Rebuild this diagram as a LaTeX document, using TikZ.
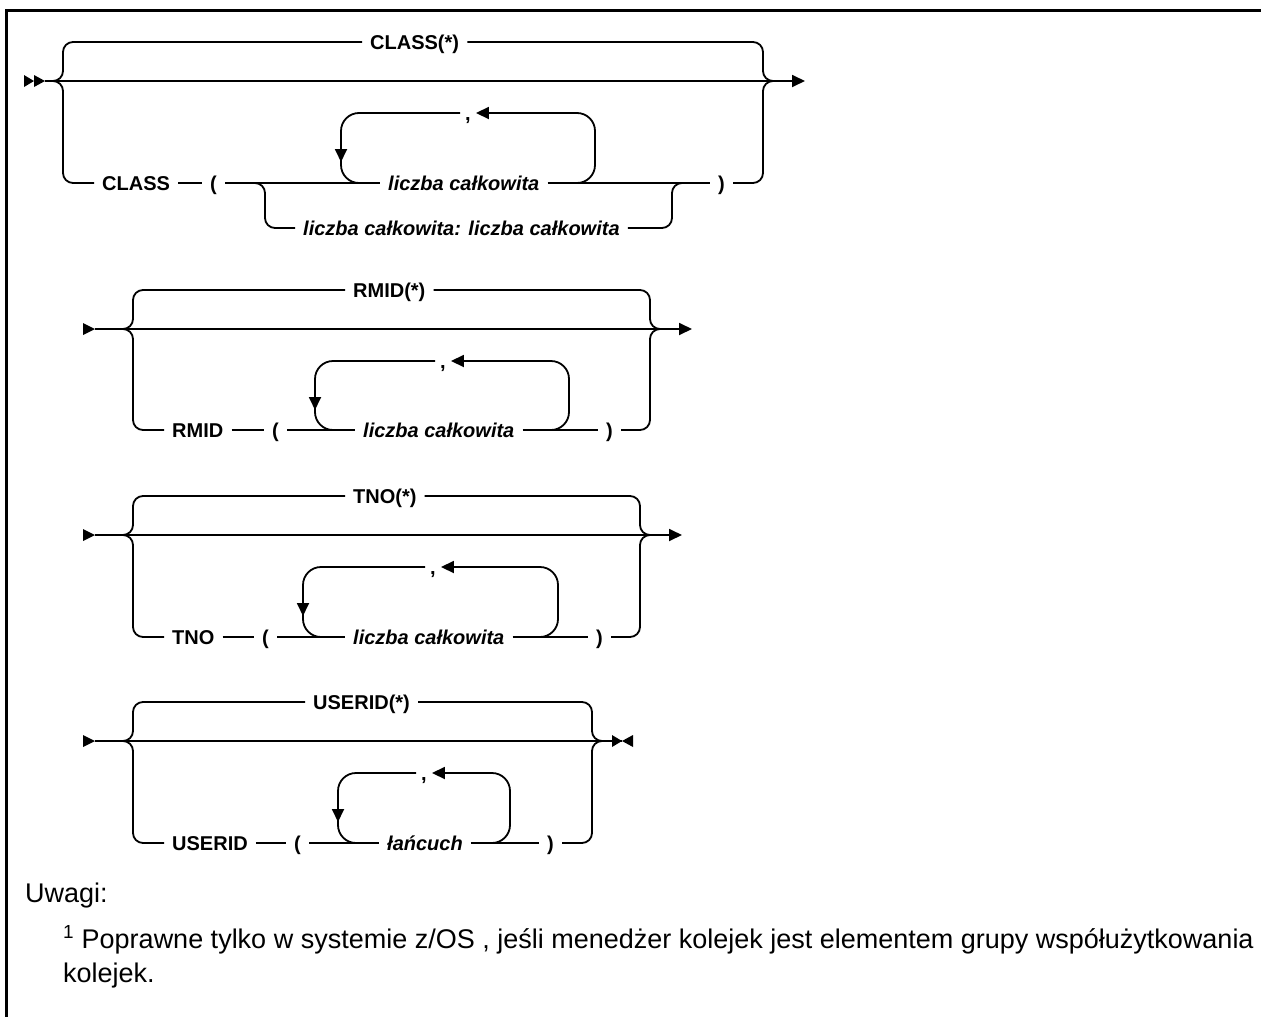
\documentclass[tikz,border=0pt]{standalone}
\usepackage{fontspec}
\setmainfont{Liberation Sans}
\usetikzlibrary{arrows.meta}

\tikzset{
  rail/.style={line width=1.8pt,rounded corners=10pt},
  repeatline/.style={line width=1.8pt,rounded corners=18pt},
  railarrow/.style={-{Triangle[length=13pt,width=12pt]}},
  keyword/.style={font=\bfseries\fontsize{20}{24}\selectfont,text height=14pt,text depth=0pt,inner ysep=0pt,inner xsep=8pt,anchor=west},
  argname/.style={keyword,font=\bfseries\itshape\fontsize{20}{24}\selectfont},
  repsep/.style={keyword,inner xsep=5pt},
  note/.style={font=\fontsize{27}{34}\selectfont,inner sep=0pt,anchor=base west}
}

\begin{document}
\begin{tikzpicture}[x=1pt,y=-1pt]
\useasboundingbox (0,0) rectangle (1261,1017);
\draw[line width=3pt] (1261,10) -- (6,10) -- (6,1017);

% CLASS
\coordinate (clsIn) at (45,81);
\coordinate (clsOut) at (805,81);
\coordinate (clsL) at (63,81);
\coordinate (clsR) at (763,81);
\coordinate (clsA) at (265,183);
\coordinate (clsB) at (672,183);
\coordinate (clsLoopL) at (341,113);
\coordinate (clsLoopR) at (595,113);
\node[keyword] (clsAll) at (362,42) {CLASS(*)};
\node[keyword] (clsKw) at (94,183) {CLASS};
\node[keyword] (clsOpen) at (202,183) {(};
\node[argname] (clsInt) at (380,183) {liczba całkowita};
\node[keyword] (clsClose) at (710,183) {)};
\node[argname] (clsRange) at (295,228) {liczba całkowita: liczba całkowita};
\node[repsep] (clsSep) at (460,113) {,};
\fill (24,75) -- (34,81) -- (24,87) -- cycle (34,75) -- (45,81) -- (34,87) -- cycle;
\draw[rail,railarrow] (clsIn) -- (clsOut);
\draw[rail] (clsL) ++(-10,0) -- (clsL) |- (clsAll.west);
\draw[rail] (clsAll.east) -| (clsR) -- ++(10,0);
\draw[rail] (clsL) ++(-10,0) -- (clsL) |- (clsKw.west);
\draw[rail] (clsKw.east) -- (clsOpen.west) (clsOpen.east) -- (clsInt.west) (clsInt.east) -- (clsClose.west);
\draw[rail] (clsClose.east) -| (clsR) -- ++(10,0);
\draw[rail] (clsA) ++(-10,0) -- (clsA) |- (clsRange.west);
\draw[rail] (clsRange.east) -| (clsB) -- ++(10,0);
\draw[repeatline,railarrow] (clsLoopR |- clsInt) ++(-18,0) -- (clsLoopR |- clsInt) -- (clsLoopR) -- (clsSep.east);
\draw[repeatline,railarrow] (clsSep.west) -- (clsLoopL) -- ++(0,49);
\draw[repeatline] (clsLoopL) ++(0,45) -- (clsLoopL |- clsInt) -- ++(18,0);

% RMID
\coordinate (rmidIn) at (95,329);
\coordinate (rmidOut) at (692,329);
\coordinate (rmidL) at (133,329);
\coordinate (rmidR) at (650,329);
\coordinate (rmidLoopL) at (315,361);
\coordinate (rmidLoopR) at (569,361);
\node[keyword] (rmidAll) at (345,290) {RMID(*)};
\node[keyword] (rmidKw) at (164,430) {RMID};
\node[keyword] (rmidOpen) at (264,430) {(};
\node[argname] (rmidInt) at (355,430) {liczba całkowita};
\node[keyword] (rmidClose) at (598,430) {)};
\node[repsep] (rmidSep) at (435,361) {,};
\fill (83,323) -- (95,329) -- (83,335) -- cycle;
\draw[rail,railarrow] (rmidIn) -- (rmidOut);
\draw[rail] (rmidL) ++(-10,0) -- (rmidL) |- (rmidAll.west);
\draw[rail] (rmidAll.east) -| (rmidR) -- ++(10,0);
\draw[rail] (rmidL) ++(-10,0) -- (rmidL) |- (rmidKw.west);
\draw[rail] (rmidKw.east) -- (rmidOpen.west) (rmidOpen.east) -- (rmidInt.west) (rmidInt.east) -- (rmidClose.west);
\draw[rail] (rmidClose.east) -| (rmidR) -- ++(10,0);
\draw[repeatline,railarrow] (rmidLoopR |- rmidInt) ++(-18,0) -- (rmidLoopR |- rmidInt) -- (rmidLoopR) -- (rmidSep.east);
\draw[repeatline,railarrow] (rmidSep.west) -- (rmidLoopL) -- ++(0,49);
\draw[repeatline] (rmidLoopL) ++(0,45) -- (rmidLoopL |- rmidInt) -- ++(18,0);

% TNO
\coordinate (tnoIn) at (95,535);
\coordinate (tnoOut) at (682,535);
\coordinate (tnoL) at (133,535);
\coordinate (tnoR) at (640,535);
\coordinate (tnoLoopL) at (303,567);
\coordinate (tnoLoopR) at (558,567);
\node[keyword] (tnoAll) at (345,496) {TNO(*)};
\node[keyword] (tnoKw) at (164,637) {TNO};
\node[keyword] (tnoOpen) at (254,637) {(};
\node[argname] (tnoInt) at (345,637) {liczba całkowita};
\node[keyword] (tnoClose) at (588,637) {)};
\node[repsep] (tnoSep) at (425,567) {,};
\fill (83,529) -- (95,535) -- (83,541) -- cycle;
\draw[rail,railarrow] (tnoIn) -- (tnoOut);
\draw[rail] (tnoL) ++(-10,0) -- (tnoL) |- (tnoAll.west);
\draw[rail] (tnoAll.east) -| (tnoR) -- ++(10,0);
\draw[rail] (tnoL) ++(-10,0) -- (tnoL) |- (tnoKw.west);
\draw[rail] (tnoKw.east) -- (tnoOpen.west) (tnoOpen.east) -- (tnoInt.west) (tnoInt.east) -- (tnoClose.west);
\draw[rail] (tnoClose.east) -| (tnoR) -- ++(10,0);
\draw[repeatline,railarrow] (tnoLoopR |- tnoInt) ++(-18,0) -- (tnoLoopR |- tnoInt) -- (tnoLoopR) -- (tnoSep.east);
\draw[repeatline,railarrow] (tnoSep.west) -- (tnoLoopL) -- ++(0,49);
\draw[repeatline] (tnoLoopL) ++(0,45) -- (tnoLoopL |- tnoInt) -- ++(18,0);

% USERID
\coordinate (usrIn) at (95,741);
\coordinate (usrOut) at (622,741);
\coordinate (usrL) at (133,741);
\coordinate (usrR) at (592,741);
\coordinate (usrLoopL) at (338,773);
\coordinate (usrLoopR) at (510,773);
\node[keyword] (usrAll) at (305,702) {USERID(*)};
\node[keyword] (usrKw) at (164,843) {USERID};
\node[keyword] (usrOpen) at (286,843) {(};
\node[argname] (usrInt) at (379,843) {łańcuch};
\node[keyword] (usrClose) at (539,843) {)};
\node[repsep] (usrSep) at (416,773) {,};
\fill (83,735) -- (95,741) -- (83,747) -- cycle;
\draw[rail] (usrIn) -- (usrOut);
\fill (612,735) -- (622,741) -- (612,747) -- cycle (633,735) -- (622,741) -- (633,747) -- cycle;
\draw[rail] (usrL) ++(-10,0) -- (usrL) |- (usrAll.west);
\draw[rail] (usrAll.east) -| (usrR) -- ++(10,0);
\draw[rail] (usrL) ++(-10,0) -- (usrL) |- (usrKw.west);
\draw[rail] (usrKw.east) -- (usrOpen.west) (usrOpen.east) -- (usrInt.west) (usrInt.east) -- (usrClose.west);
\draw[rail] (usrClose.east) -| (usrR) -- ++(10,0);
\draw[repeatline,railarrow] (usrLoopR |- usrInt) ++(-18,0) -- (usrLoopR |- usrInt) -- (usrLoopR) -- (usrSep.east);
\draw[repeatline,railarrow] (usrSep.west) -- (usrLoopL) -- ++(0,49);
\draw[repeatline] (usrLoopL) ++(0,45) -- (usrLoopL |- usrInt) -- ++(18,0);

% notes
\node[note] (notes) at (25,902) {Uwagi:};
\node[note] (fnA) at (63,948) {\textsuperscript{1} Poprawne tylko w systemie z/OS , jeśli menedżer kolejek jest elementem grupy współużytkowania};
\node[note] (fnB) at (63,982) {kolejek.};
\end{tikzpicture}
\end{document}
